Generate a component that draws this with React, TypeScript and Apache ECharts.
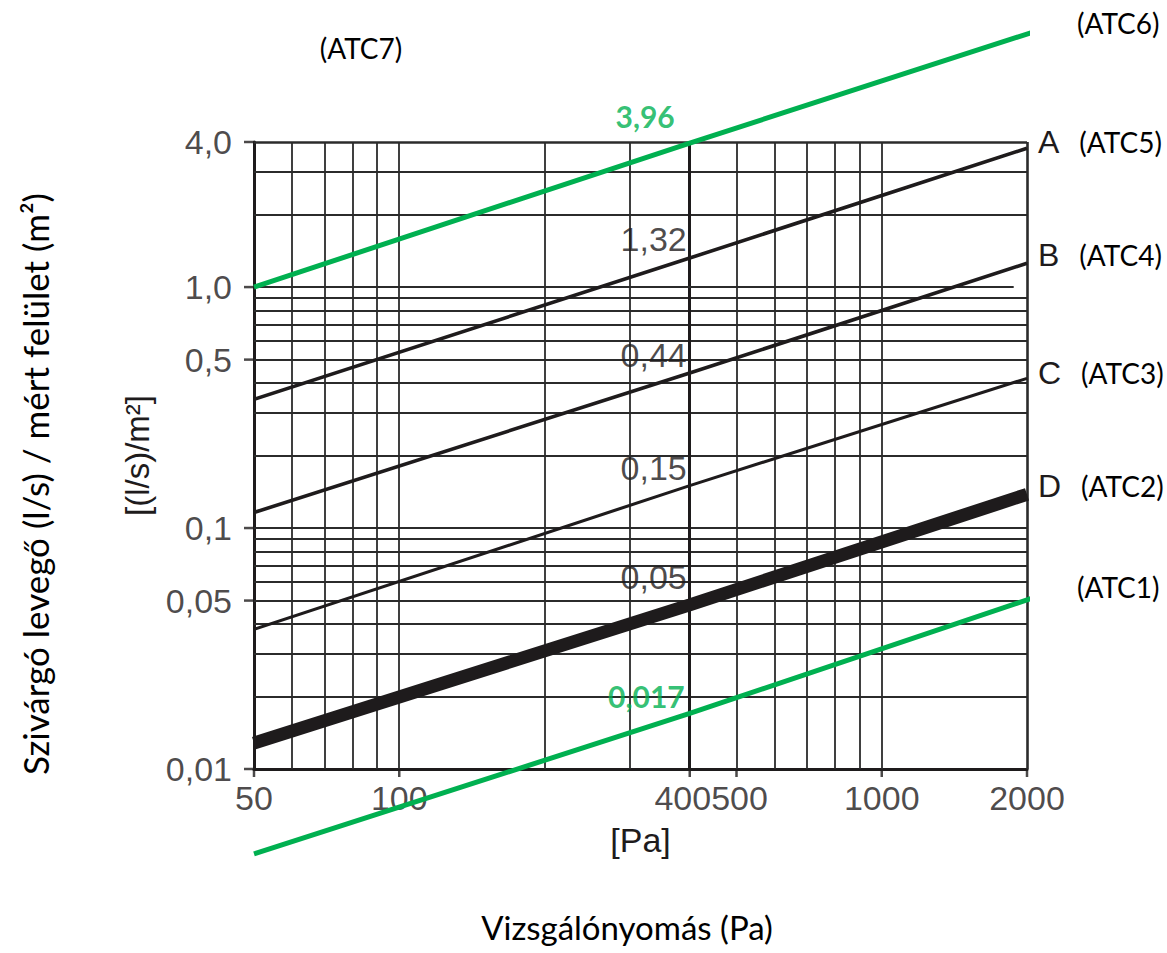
import React, { useEffect, useRef } from 'react';
import * as echarts from 'echarts';

// ---- data ----
const pressureTicks = [50, 100, 400, 500, 1000, 2000];
const pressureTickLabels = ['50', '100', '400', '500', '1000', '2000'];
const pressureTickShift = [0, 0, -7, 3, 0, 0];
const leakTicks = [4.0, 1.0, 0.5, 0.1, 0.05, 0.01];
const leakTickLabels = ['4,0', '1,0', '0,5', '0,1', '0,05', '0,01'];
const minorPressure = [60, 70, 80, 90, 100, 200, 300, 500, 600, 700, 800, 900, 1000];
const minorLeak = [0.02, 0.03, 0.04, 0.05, 0.06, 0.07, 0.08, 0.09, 0.1, 0.2, 0.3, 0.4, 0.5, 0.6, 0.7, 0.8, 0.9, 2, 3];
const testPressure = 400;
const partialLineValue = 1.0;
const partialLineEnd = 1877;

const pressures = [50, 400, 2000];
const classA = [0.342, 1.32, 3.77];
const classB = [0.116, 0.44, 1.255];
const classC = [0.038, 0.15, 0.418];
const classD = [0.0128, 0.048, 0.138];
const classNames = ['A', 'B', 'C', 'D'];
const classAtc = ['(ATC5)', '(ATC4)', '(ATC3)', '(ATC2)'];
const classLabels = ['1,32', '0,44', '0,15', '0,05'];

const atcPressures = [50, 400, 2075];
const atc6 = [1.0, 3.96, 11.5];
const atc1 = [0.00444, 0.017, 0.0516];
const atcLabels = ['3,96', '0,017'];

const INK = '#1e1b1c';
const GREEN = '#00b050';
const ARIAL = '"Liberation Sans", Arial, sans-serif';
const CALIBRI = 'Lato, "Noto Sans", sans-serif';

export default function App() {
  const ref = useRef<HTMLDivElement>(null);
  useEffect(() => {
    if (!ref.current) return;
    const chart = echarts.init(ref.current, undefined, { renderer: 'svg' });

    const thin = { color: '#2b2b2b', width: 1.8, type: 'solid' };
    const thick = { color: INK, width: 3, type: 'solid' };
    const border = { color: '#2b2b2b', width: 2.6, type: 'solid' };

    const markData: any[] = [];
    minorLeak.forEach((v) => markData.push({ yAxis: v, lineStyle: thin }));
    minorPressure.forEach((v) => markData.push({ xAxis: v, lineStyle: thin }));
    markData.push({ yAxis: leakTicks[0], lineStyle: border });
    markData.push({ xAxis: pressureTicks[pressureTicks.length - 1], lineStyle: border });
    markData.push({ xAxis: testPressure, lineStyle: thick });
    markData.push([
      { coord: [pressureTicks[0], partialLineValue], lineStyle: thin },
      { coord: [partialLineEnd, partialLineValue] },
    ]);

    const classSeries = [classA, classB, classC, classD];
    const classWidth = [3.6, 3.6, 3.1, 13];
    const classEndOffset = [-6, -8, -5, -8];
    const classLabelOffset = [-19, -17.5, -18, -28];

    const lineSeries: any[] = classSeries.map((vals, k) => ({
      type: 'line',
      name: classNames[k],
      data: pressures.map((p, i) => [p, vals[i]]),
      symbol: 'none',
      z: 3,
      lineStyle: { color: INK, width: classWidth[k], cap: 'butt' },
      endLabel: {
        show: true,
        formatter: '{l|' + classNames[k] + '}{t|' + classAtc[k] + '}',
        distance: 11,
        offset: [0, classEndOffset[k]],
        rich: {
          l: { fontFamily: ARIAL, fontSize: 32, color: INK },
          t: { fontFamily: CALIBRI, fontSize: 28, color: '#000', padding: [0, 0, 0, 20] },
        },
      },
    }));

    const atcLine = (name: string, vals: number[], off: number) => ({
      type: 'line',
      name,
      data: atcPressures.map((p, i) => [p, vals[i]]),
      symbol: 'none',
      clip: false,
      z: 4,
      lineStyle: { color: GREEN, width: 5, cap: 'butt' },
      endLabel: {
        show: true,
        formatter: name,
        distance: 47,
        offset: [0, off],
        fontFamily: CALIBRI,
        fontSize: 28,
        color: '#000',
      },
    });

    const option: any = {
      animation: false,
      backgroundColor: '#fff',
      grid: { left: 254, top: 142, width: 773, height: 627, containLabel: false, outerBoundsMode: 'none' },
      xAxis: {
        type: 'log',
        logBase: 10,
        min: 50,
        max: 2000,
        name: '[Pa]',
        nameLocation: 'middle',
        nameGap: 54,
        nameTextStyle: { fontFamily: ARIAL, fontSize: 34, color: INK },
        axisLine: { show: true, lineStyle: { color: INK, width: 3 } },
        axisTick: { show: false },
        axisLabel: { show: false },
        splitLine: { show: false },
        minorTick: { show: false },
        minorSplitLine: { show: false },
      },
      yAxis: {
        type: 'log',
        logBase: 10,
        min: 0.01,
        max: 4,
        name: '[(l/s)/m²]',
        nameLocation: 'middle',
        nameGap: 100,
        nameRotate: 90,
        nameTextStyle: { fontFamily: ARIAL, fontSize: 33, color: INK },
        axisLine: { show: true, lineStyle: { color: INK, width: 3 } },
        axisTick: { show: false },
        axisLabel: { show: false },
        splitLine: { show: false },
        minorTick: { show: false },
        minorSplitLine: { show: false },
      },
      series: [
        {
          type: 'scatter',
          name: 'yTicks',
          data: leakTicks.map((v) => [pressureTicks[0], v]),
          symbol: 'rect',
          symbolSize: [10, 2.5],
          symbolOffset: [-5, 0],
          itemStyle: { color: INK },
          clip: false,
          silent: true,
          z: 2,
          markLine: {
            silent: true,
            z: 1,
            symbol: ['none', 'none'],
            label: { show: false },
            emphasis: { disabled: true },
            data: markData,
          },
        },
        {
          type: 'scatter',
          name: 'xTicks',
          data: pressureTicks.map((v) => [v, leakTicks[leakTicks.length - 1]]),
          symbol: 'rect',
          symbolSize: [2.5, 8],
          symbolOffset: [0, 4],
          itemStyle: { color: INK },
          clip: false,
          silent: true,
          z: 2,
        },
        {
          type: 'scatter',
          name: 'yLabels',
          data: leakTicks.map((v, i) => ({ value: [pressureTicks[0], v], label: { formatter: leakTickLabels[i] } })),
          symbolSize: 0,
          itemStyle: { color: 'transparent' },
          clip: false,
          silent: true,
          label: { show: true, position: 'left', distance: 22, fontFamily: ARIAL, fontSize: 34, color: INK },
        },
        {
          type: 'scatter',
          name: 'xLabels',
          data: pressureTicks.map((v, i) => ({
            value: [v, leakTicks[leakTicks.length - 1]],
            label: { formatter: pressureTickLabels[i], offset: [pressureTickShift[i], 0] },
          })),
          symbolSize: 0,
          itemStyle: { color: 'transparent' },
          clip: false,
          silent: true,
          label: { show: true, position: 'bottom', distance: 12, fontFamily: ARIAL, fontSize: 34, color: INK },
        },
        {
          type: 'scatter',
          name: 'classValues',
          data: classSeries.map((vals, k) => ({
            value: [testPressure, vals[1]],
            label: { formatter: classLabels[k], offset: [0, classLabelOffset[k]] },
          })),
          symbolSize: 0,
          itemStyle: { color: 'transparent' },
          clip: false,
          silent: true,
          z: 5,
          label: { show: true, position: 'left', distance: 3, fontFamily: ARIAL, fontSize: 34, color: INK },
        },
        {
          type: 'scatter',
          name: 'atcValues',
          data: [
            { value: [testPressure, atc6[1]], label: { formatter: atcLabels[0], offset: [-12, -27] } },
            { value: [testPressure, atc1[1]], label: { formatter: atcLabels[1], offset: [-2, -17.5] } },
          ],
          symbolSize: 0,
          itemStyle: { color: 'transparent' },
          clip: false,
          silent: true,
          z: 5,
          label: { show: true, position: 'left', distance: 3, fontFamily: CALIBRI, fontWeight: 'bold', fontSize: 30, color: GREEN },
        },
        ...lineSeries,
        atcLine('(ATC6)', atc6, -10),
        atcLine('(ATC1)', atc1, -12),
      ],
      graphic: [
        {
          type: 'text',
          x: 361,
          y: 48,
          style: { text: '(ATC7)', fontFamily: CALIBRI, fontSize: 28, fill: '#000', align: 'center', verticalAlign: 'middle' },
        },
        {
          type: 'text',
          x: 627,
          y: 927,
          style: { text: 'Vizsgálónyomás (Pa)', fontFamily: CALIBRI, fontSize: 33, fill: '#000', align: 'center', verticalAlign: 'middle' },
        },
        {
          type: 'text',
          x: 35,
          y: 484,
          rotation: Math.PI / 2,
          style: {
            text: 'Szivárgó levegő (l/s) / mért felület (m²)',
            fontFamily: CALIBRI,
            fontSize: 35,
            fill: '#000',
            align: 'center',
            verticalAlign: 'middle',
          },
        },
      ],
    };

    chart.setOption(option);
    return () => chart.dispose();
  }, []);

  return (
    <div
      ref={ref}
      style={{ position: 'fixed', left: 0, top: 0, width: 1167, height: 953, background: '#fff' }}
    />
  );
}
